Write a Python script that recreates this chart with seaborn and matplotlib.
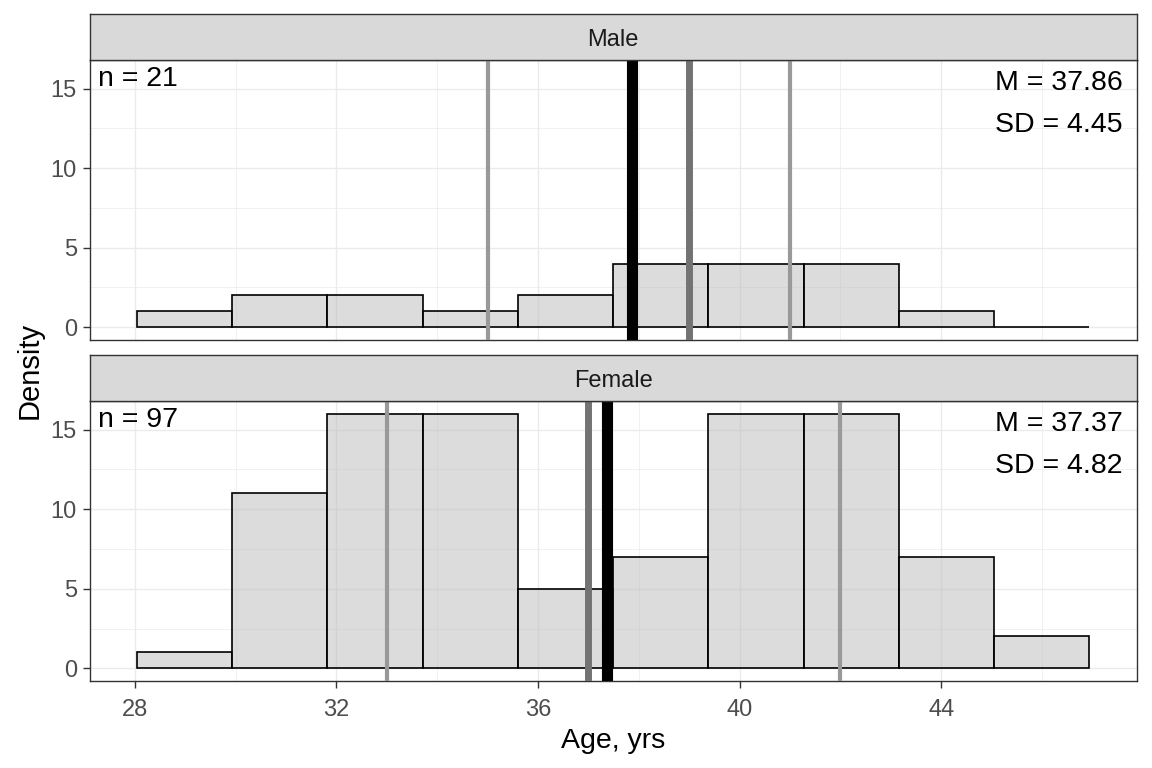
import numpy as np
import pandas as pd
import matplotlib
matplotlib.use("Agg")
import matplotlib.pyplot as plt
from matplotlib.ticker import FixedLocator
import seaborn as sns

# ---------------- data ----------------
groups = ["Male", "Female"]
bin_start = 28.04
bin_width = 1.89
male_counts = [1, 2, 2, 1, 2, 4, 4, 4, 1, 0]
female_counts = [1, 11, 16, 16, 5, 7, 16, 16, 7, 2]
n_values = [21, 97]
means = [37.86, 37.37]
sds = [4.45, 4.82]
medians = [39, 37]
q1_values = [35, 33]
q3_values = [41, 42]
x_ticks = [28, 32, 36, 40, 44]
y_ticks = [0, 5, 10, 15]

counts_by_group = {"Male": male_counts, "Female": female_counts}
edges = [float(e) for e in (bin_start + bin_width * np.arange(len(male_counts) + 1))]
centers = [(edges[k] + edges[k + 1]) / 2 for k in range(len(edges) - 1)]

sns.set_theme(style="white")
plt.rcParams["font.family"] = ["Liberation Sans", "DejaVu Sans"]

W, H = 1152, 768
fig = plt.figure(figsize=(W / 100, H / 100), dpi=100)

left_px, right_px = 89.5, 1136.7
panels_px = [(60, 340), (401, 681)]
strips_px = [(14.3, 60), (355.3, 401)]

def fx(px):
    return px / W

def fy(py):
    return 1 - py / H

border = "#333333"
for i, g in enumerate(groups):
    top, bot = panels_px[i]
    ax = fig.add_axes([fx(left_px), fy(bot), fx(right_px - left_px), (bot - top) / H])
    df = pd.DataFrame({"age": centers, "count": counts_by_group[g]})
    sns.histplot(data=df, x="age", weights="count", bins=edges, stat="count",
                 ax=ax, color="#bbbbbb", edgecolor="black", linewidth=1.2, zorder=2)
    for p in ax.patches:
        p.set_alpha(None)
        p.set_facecolor((0.733, 0.733, 0.733, 0.5))
        p.set_edgecolor("black")
        p.set_linewidth(1.2)

    # vertical reference lines
    ax.axvline(q1_values[i], color="#999999", lw=3.0, zorder=3)
    ax.axvline(q3_values[i], color="#999999", lw=3.0, zorder=3)
    ax.axvline(medians[i], color="#737373", lw=5.0, zorder=3)
    ax.axvline(means[i], color="black", lw=8.0, zorder=4)

    ax.set_xlim(27.1, 47.88)
    ax.set_ylim(-0.8, 16.8)
    ax.xaxis.set_major_locator(FixedLocator(x_ticks))
    ax.xaxis.set_minor_locator(FixedLocator([30, 34, 38, 42, 46]))
    ax.yaxis.set_major_locator(FixedLocator(y_ticks))
    ax.yaxis.set_minor_locator(FixedLocator([2.5, 7.5, 12.5]))
    ax.grid(which="major", color="#EBEBEB", lw=1.0, zorder=0)
    ax.grid(which="minor", color="#EBEBEB", lw=0.5, zorder=0)
    ax.set_axisbelow(True)
    for s in ax.spines.values():
        s.set_color(border)
        s.set_linewidth(1.0)
        s.set_visible(True)
    ax.set_xlabel("")
    ax.set_ylabel("")
    ax.tick_params(axis="y", which="major", length=5, width=1.0, color=border,
                   labelsize=17, labelcolor="#4D4D4D", pad=4, left=True)
    ax.tick_params(which="minor", length=0)
    if i == 0:
        ax.tick_params(axis="x", which="major", bottom=False, labelbottom=False)
    else:
        ax.tick_params(axis="x", which="major", length=5, width=1.0, color=border,
                       labelsize=17, labelcolor="#4D4D4D", pad=8, bottom=True)

    # annotations
    ax.annotate(f"n = {n_values[i]}", xy=(0, 1), xycoords="axes fraction",
                xytext=(8, -26), textcoords="offset pixels", ha="left",
                va="baseline", fontsize=20.5, color="black")
    ax.annotate(f"M = {means[i]:.2f}", xy=(1, 1), xycoords="axes fraction",
                xytext=(-14, -30), textcoords="offset pixels", ha="right",
                va="baseline", fontsize=20.5, color="black")
    ax.annotate(f"SD = {sds[i]:.2f}", xy=(1, 1), xycoords="axes fraction",
                xytext=(-14, -72), textcoords="offset pixels", ha="right",
                va="baseline", fontsize=20.5, color="black")

    # strip
    st, sb = strips_px[i]
    sax = fig.add_axes([fx(left_px), fy(sb), fx(right_px - left_px), (sb - st) / H])
    sax.set_facecolor("#D9D9D9")
    sax.set_xticks([])
    sax.set_yticks([])
    for s in sax.spines.values():
        s.set_color(border)
        s.set_linewidth(1.0)
        s.set_visible(True)
    sax.text(0.5, 0.43, g, transform=sax.transAxes, ha="center", va="center",
             fontsize=17, color="#1A1A1A")

fig.text(fx(30), fy(370), "Density", rotation=90, ha="center", va="center",
         fontsize=21, color="black")
fig.text(fx((left_px + right_px) / 2), fy(748), "Age, yrs", ha="center",
         va="baseline", fontsize=20.5, color="black")

fig.savefig("out.png", dpi=100, facecolor="white")
